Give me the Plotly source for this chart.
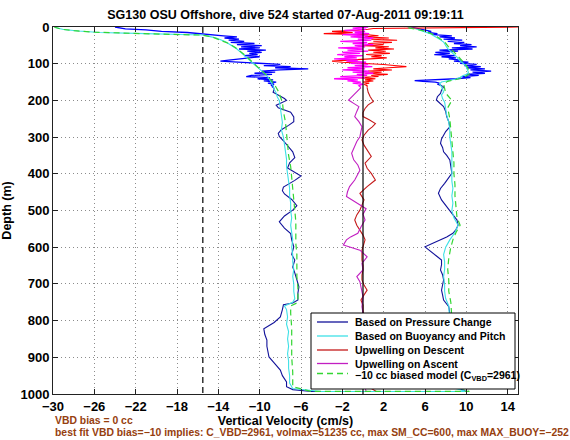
import plotly.graph_objects as go

# ---------------- data ----------------
# Based on Pressure Change (smoothed, navy) - descent then ascent
pc_desc_depth = [160, 170, 178, 188, 195, 200, 206, 213, 220, 232, 245, 258, 268, 280, 290, 298, 310, 324, 340, 356,
                 370, 384, 395, 406, 418, 428, 436, 446, 455, 470, 487, 499, 515, 531, 548, 563, 580, 599, 620, 635,
                 654, 670, 690, 708, 725, 744, 752, 757, 770, 790, 805, 822, 838, 853, 870, 885, 899, 915, 935, 950,
                 967, 980, 988, 993]
pc_desc_w = [-8.7, -8.6, -8.7, -8.0, -7.6, -7.4, -7.9, -8.4, -8.2, -7.0, -6.7, -6.7, -7.2, -7.9, -8.2, -8.1, -7.7, -7.3, -6.8, -6.6,
             -7.1, -7.3, -6.6, -6.0, -6.6, -7.3, -7.7, -7.8, -7.6, -6.9, -6.4, -6.8, -7.6, -8.1, -7.6, -7.0, -6.9, -6.7, -6.9, -6.6,
             -6.8, -6.6, -6.4, -6.2, -6.3, -6.3, -6.8, -7.7, -7.8, -8.0, -8.6, -9.6, -9.5, -9.3, -9.3, -9.2, -9.1, -8.6, -8.0, -7.8,
             -7.4, -7.4, -6.8, -5.0]
pc_asc_depth = [155, 163, 172, 181, 190, 199, 208, 217, 230, 244, 258, 272, 285, 294, 305, 317, 328, 340, 350, 362,
                380, 399, 412, 426, 440, 453, 471, 490, 508, 526, 540, 552, 562, 572, 580, 590, 599, 608, 617, 626,
                635, 648, 662, 675, 689, 703, 717, 730, 744, 762, 780, 820, 870, 920, 960, 985, 993]
pc_asc_w = [7.3, 7.8, 7.6, 7.5, 7.2, 7.1, 7.5, 7.8, 8.0, 8.1, 8.3, 8.4, 8.0, 7.8, 7.6, 7.5, 7.7, 7.8, 8.1, 8.4,
            8.5, 8.6, 8.3, 7.9, 7.5, 7.3, 7.6, 8.1, 8.6, 9.1, 9.2, 9.0, 8.7, 8.1, 7.5, 6.7, 6.0, 6.3, 6.8, 7.2,
            7.6, 7.6, 7.5, 7.7, 7.8, 7.7, 7.6, 7.7, 7.8, 8.3, 8.4, 8.2, 8.6, 8.4, 8.8, 9.3, 10.0]

# Pressure-change raw (noisy, bright blue) near the surface
raw_desc_depth = [0, 2, 5, 8, 12, 15, 18, 21, 24, 27, 30, 33, 36, 39, 42, 45, 48, 51, 54, 57, 60, 63, 66, 69, 72, 75,
                  78, 81, 84, 87, 90, 93, 96, 99, 102, 105, 108, 111, 114, 117, 120, 123, 126, 129, 132, 135, 138,
                  141, 144, 147, 150, 153, 156, 159, 162, 165]
raw_desc_w = [-24.0, -23.5, -23.0, -21.0, -19.5, -17.0, -15.5, -15.0, -13.5, -12.2, -13.4, -12.0, -13.0, -11.5, -12.8,
              -10.5, -12.2, -9.8, -11.8, -10.0, -12.0, -9.4, -11.2, -9.8, -11.0, -10.2, -11.5, -10.0, -11.0, -12.5,
              -13.0, -13.8, -11.5, -10.0, -8.0, -9.6, -7.0, -8.5, -5.3, -8.0, -9.8, -8.5, -10.5, -8.8, -10.8, -11.3,
              -9.0, -10.2, -8.7, -9.6, -8.4, -9.2, -8.6, -8.9, -8.7, -8.8]
raw_asc_depth = [0, 3, 6, 9, 12, 15, 18, 21, 24, 27, 30, 33, 36, 39, 42, 45, 48, 51, 54, 57, 60, 63, 66, 69, 72, 75,
                 78, 81, 84, 87, 90, 93, 96, 99, 102, 105, 108, 111, 114, 117, 120, 123, 126, 129, 132, 135, 138,
                 141, 144, 146, 148, 150, 153, 156, 160]
raw_asc_w = [4.6, 5.2, 5.5, 6.0, 6.6, 6.3, 7.2, 6.8, 8.6, 7.4, 8.9, 7.8, 9.6, 8.2, 9.8, 8.8, 10.5, 9.4, 11.0, 8.6,
             10.6, 7.4, 9.2, 7.0, 8.4, 6.9, 8.9, 7.6, 9.0, 8.3, 9.5, 8.8, 10.2, 9.4, 11.0, 9.8, 11.4, 10.0, 11.8, 10.4,
             12.4, 10.6, 11.8, 10.0, 11.2, 9.6, 10.4, 9.0, 7.0, 5.0, 5.8, 7.0, 7.4, 7.2, 7.6]

# Based on Buoyancy and Pitch (cyan)
bp_desc_depth = [1, 3, 7, 11, 15, 18, 20, 22, 27, 30, 40, 50, 60, 70, 80, 90, 100, 110, 120, 130, 140, 150, 160, 170,
                 180, 190, 200, 220, 240, 260, 280, 300, 320, 340, 360, 380, 400, 420, 440, 460, 480, 500, 520, 540,
                 560, 580, 600, 620, 640, 660, 680, 700, 720, 740, 750, 760, 770, 790, 810, 830, 850, 870, 890, 910,
                 930, 950, 970, 985, 993]
bp_desc_w = [-29.8, -29.5, -29.0, -27.5, -25.5, -21.0, -18.0, -15.5, -14.7, -14.2, -13.3, -12.7, -12.2, -11.8, -11.4,
             -11.0, -10.6, -10.1, -9.7, -9.4, -9.1, -8.9, -8.7, -8.6, -8.4, -8.3, -8.1, -8.0, -7.9, -7.8, -7.9, -7.7,
             -7.6, -7.5, -7.4, -7.4, -7.3, -7.2, -7.1, -7.1, -7.0, -7.0, -6.9, -7.0, -6.9, -6.8, -6.9, -6.8, -6.8, -6.7,
             -6.8, -6.7, -6.7, -6.6, -6.8, -7.6, -7.4, -7.3, -7.4, -7.2, -7.3, -7.2, -7.3, -7.2, -7.2, -7.1, -7.1, -6.8,
             -4.0]
bp_asc_depth = [0, 4, 9, 14, 18, 23, 27, 35, 41, 50, 55, 62, 68, 75, 82, 90, 95, 102, 109, 116, 123, 128, 132, 137,
                141, 146, 150, 155, 163, 170, 177, 185, 195, 205, 220, 240, 260, 280, 300, 320, 340, 360, 380, 400,
                420, 440, 460, 480, 500, 520, 540, 560, 580, 600, 620, 640, 660, 680, 700, 720, 740, 760, 780, 800,
                850, 900, 950, 985, 993]
bp_asc_w = [4.3, 5.0, 5.6, 6.1, 6.5, 6.8, 7.1, 7.5, 7.8, 8.0, 8.1, 8.3, 8.6, 8.8, 9.1, 9.3, 9.5, 9.8, 10.0, 10.1,
            10.2, 10.1, 9.7, 9.4, 9.1, 8.3, 7.6, 7.4, 7.6, 7.7, 7.8, 7.6, 7.7, 7.9, 8.0, 8.1, 8.3, 8.4, 8.4, 8.5,
            8.6, 8.6, 8.6, 8.6, 8.6, 8.7, 8.6, 8.7, 8.6, 8.8, 9.2, 8.9, 8.4, 8.0, 7.8, 7.9, 7.9, 7.8, 7.9, 7.9,
            8.0, 8.3, 8.4, 8.4, 8.5, 8.6, 8.7, 9.0, 10.0]

# -10 cc biased model (green dashed)
model_desc_depth = [0, 3, 6, 10, 14, 18, 22, 27, 35, 45, 55, 65, 75, 85, 95, 105, 115, 125, 135, 145, 155, 165, 175,
                    190, 205, 230, 260, 290, 320, 350, 380, 410, 440, 470, 500, 530, 560, 590, 620, 650, 680, 710,
                    740, 752, 760, 780, 820, 860, 900, 940, 980, 993]
model_desc_w = [-29.9, -29.6, -29.2, -28.0, -26.0, -21.5, -15.6, -14.6, -13.8, -13.0, -12.4, -11.9, -11.5, -11.1,
                -10.7, -10.3, -9.9, -9.5, -9.2, -8.9, -8.6, -8.4, -8.2, -8.0, -7.8, -7.7, -7.5, -7.4, -7.3, -7.2,
                -7.0, -6.9, -6.8, -6.7, -6.6, -6.5, -6.5, -6.5, -6.4, -6.4, -6.4, -6.3, -6.3, -6.4, -7.0, -7.0, -6.9,
                -6.9, -6.9, -6.8, -6.8, -5.0]
model_asc_depth = [0, 5, 10, 18, 27, 41, 55, 68, 82, 95, 109, 120, 128, 135, 141, 148, 155, 165, 180, 200, 220, 250,
                   280, 310, 340, 370, 400, 430, 460, 490, 520, 540, 560, 580, 600, 630, 660, 690, 720, 750, 780,
                   830, 880, 930, 980, 993]
model_asc_w = [4.0, 5.0, 5.8, 6.6, 7.2, 7.9, 8.3, 8.8, 9.3, 9.7, 10.1, 10.3, 10.3, 9.9, 9.3, 8.2, 7.8, 7.9, 8.0, 8.6,
               8.2, 8.4, 8.5, 8.6, 8.7, 8.8, 8.8, 8.9, 8.9, 9.0, 9.1, 9.4, 9.0, 8.7, 8.5, 8.3, 8.2, 8.3, 8.3, 8.5,
               8.6, 8.7, 8.8, 8.9, 9.2, 10.3]

# Upwelling on Descent (red): noisy near surface, smoothed below
upd_raw_depth = [0, 2, 4, 6, 9, 12, 15, 18, 21, 24, 27, 30, 33, 36, 39, 42, 45, 48, 51, 54, 57, 60, 63, 66, 69, 72,
                 75, 78, 81, 84, 87, 90, 93, 96, 99, 102, 105, 108, 111, 114, 117, 120, 123, 126, 129, 132, 135, 138,
                 141, 144, 147, 150, 153, 156, 160, 165]
upd_raw_w = [15.0, 3.5, 1.0, 0.5, -0.5, -3.0, -1.0, -3.8, 0.5, 1.5, 0.2, 2.5, 0.8, 3.3, 1.0, 2.8, 0.5, 2.0, 0.0, 2.5,
             1.2, 3.0, 0.5, 2.2, 1.0, 2.6, 0.3, 1.8, 0.8, 2.3, 0.5, -1.5, -3.0, -2.0, 0.5, 2.0, 3.0, 4.2, 2.5, 1.0,
             2.8, 0.5, 1.8, 0.2, 2.4, 0.8, 1.5, -0.5, 1.2, 0.2, 1.0, 0.0, 0.6, 0.1, 0.4, 0.4]
upd_depth = [165, 178, 190, 203, 212, 222, 233, 244, 253, 263, 272, 281, 295, 308, 322, 335, 353, 371, 385, 399, 417,
             435, 453, 471, 485, 499, 512, 526, 540, 553, 567, 580, 595, 608, 622, 635, 650, 662, 676, 689, 703, 717,
             730, 744, 758, 771, 800, 850, 900, 950, 980, 993]
upd_w = [0.4, 0.5, 0.7, 1.0, 0.5, 0.2, 0.0, 0.0, 0.6, 1.2, 0.9, 0.5, 0.1, -0.1, 0.1, 0.4, 0.8, 0.2, 0.4, 0.8, 1.2,
         0.4, -0.3, 0.1, -0.1, -0.3, -0.6, -0.8, -0.6, -0.3, 0.0, 0.2, 0.0, -0.1, -0.1, -0.1, 0.0, 0.0, -0.1, -0.1,
         0.1, 0.4, 0.1, -0.2, 0.0, 0.0, 0.1, -0.1, 0.2, 0.0, 0.5, 1.3]

# Upwelling on Ascent (magenta): noisy near surface, smoothed below
upa_raw_depth = [0, 3, 6, 9, 12, 15, 18, 21, 24, 27, 30, 33, 36, 39, 42, 45, 48, 51, 54, 57, 60, 63, 66, 69, 72, 75,
                 78, 81, 84, 87, 90, 93, 96, 99, 102, 105, 108, 111, 114, 117, 120, 123, 126, 129, 132, 135, 138, 141,
                 144, 147, 150, 153, 156, 160, 165]
upa_raw_w = [0.5, -1.0, 0.3, -1.8, 0.2, -0.8, 0.6, -2.0, 0.5, -1.2, 1.0, -0.5, 0.8, -2.2, 0.4, -1.0, 1.0, -0.8, 0.2,
             -2.4, 0.0, -1.5, 0.5, -2.0, -0.3, -2.5, 0.0, -1.8, -0.6, -2.8, -0.5, -1.6, 0.3, -1.2, 0.5, -0.8, 0.9,
             -1.5, 0.2, -2.0, 0.6, -1.0, 1.0, -0.6, 0.4, -2.2, 0.2, -2.8, -0.5, -1.5, -0.2, -1.0, 0.0, -0.4, -0.2]
upa_depth = [165, 176, 190, 199, 208, 217, 230, 244, 258, 272, 285, 299, 312, 326, 344, 362, 376, 390, 404, 417, 435,
             449, 462, 480, 495, 510, 526, 545, 562, 572, 580, 594, 603, 608, 626, 644, 662, 680, 694, 708, 735, 762,
             780, 820, 870, 920, 960, 993]
upa_w = [-0.2, -0.6, -1.1, -1.4, -0.9, -0.4, -0.6, -0.8, -0.4, -0.1, -0.2, -0.3, -0.6, -0.8, -1.1, -0.9, -0.5, -0.3,
         -0.6, -0.8, -1.3, -1.5, -1.6, -0.6, 0.3, 0.0, 0.2, -0.2, -0.5, -1.2, -1.6, -1.9, -1.0, -0.3, 0.4, -0.1, 0.0,
         -0.6, -0.3, -0.2, 0.0, -0.1, 0.0, -0.2, 0.1, -0.1, 0.0, 0.3]

# reference lines, labels and notes
vbd_limit_w = -15.5
zero_w = 0.0
depth_range = [1000, 0]
x_range = [-30, 15]
x_ticks = [-30, -26, -22, -18, -14, -10, -6, -2, 2, 6, 10, 14]
y_ticks = [0, 100, 200, 300, 400, 500, 600, 700, 800, 900, 1000]
title_text = "SG130 OSU Offshore, dive 524 started 07-Aug-2011 09:19:11"
legend_labels = ["Based on Pressure Change", "Based on Buoyancy and Pitch", "Upwelling on Descent",
                 "Upwelling on Ascent", "\u221210 cc biased model (C<sub>VBD</sub>=2961)"]
note1 = "VBD bias = 0 cc"
note2 = ("best fit VBD bias=\u221210 implies: C_VBD=2961, volmax=51235 cc, max SM_CC=600, "
         "max MAX_BUOY=\u2212252")

# ---------------- figure ----------------
FONT = "Liberation Sans, Arial, Helvetica, sans-serif"
NAVY = "#12129a"
BLUE = "#0000ff"
CYAN = "#3ee0e6"
GREEN = "#33d633"
RED_D = "#c41a1a"
RED_B = "#ff0000"
MAG_D = "#c21fc2"
MAG_B = "#ff00ff"
BROWN = "#96400f"
MODEL_DASH = "6px,4px"

W, H = 570, 440
ML, MR, MT, MB = 53, 52, 27, 46
PW, PH = W - ML - MR, H - MT - MB


def px_x(px):
    return (px - ML) / PW


def px_y(py):
    return (H - MB - py) / PH


fig = go.Figure()

fig.add_trace(go.Scatter(x=raw_desc_w, y=raw_desc_depth, mode="lines", line=dict(color=BLUE, width=1.3),
                         showlegend=False, hoverinfo="skip"))
fig.add_trace(go.Scatter(x=raw_asc_w, y=raw_asc_depth, mode="lines", line=dict(color=BLUE, width=1.3),
                         showlegend=False, hoverinfo="skip"))
fig.add_trace(go.Scatter(x=pc_desc_w + pc_asc_w[::-1], y=pc_desc_depth + pc_asc_depth[::-1], mode="lines",
                         line=dict(color=NAVY, width=1.1), name=legend_labels[0], showlegend=False))
fig.add_trace(go.Scatter(x=bp_desc_w + bp_asc_w[::-1], y=bp_desc_depth + bp_asc_depth[::-1], mode="lines",
                         line=dict(color=CYAN, width=1.1), name=legend_labels[1], showlegend=False))
fig.add_trace(go.Scatter(x=upd_raw_w, y=upd_raw_depth, mode="lines", line=dict(color=RED_B, width=1.1),
                         showlegend=False, hoverinfo="skip"))
fig.add_trace(go.Scatter(x=upd_w, y=upd_depth, mode="lines", line=dict(color=RED_D, width=1.1),
                         name=legend_labels[2], showlegend=False))
fig.add_trace(go.Scatter(x=upa_raw_w, y=upa_raw_depth, mode="lines", line=dict(color=MAG_B, width=1.3),
                         showlegend=False, hoverinfo="skip"))
fig.add_trace(go.Scatter(x=upa_w, y=upa_depth, mode="lines", line=dict(color=MAG_D, width=1.1),
                         name=legend_labels[3], showlegend=False))
fig.add_trace(go.Scatter(x=model_desc_w + model_asc_w[::-1], y=model_desc_depth + model_asc_depth[::-1],
                         mode="lines", line=dict(color=GREEN, width=1.2, dash=MODEL_DASH),
                         name=legend_labels[4], showlegend=False))

# reference lines
fig.add_shape(type="line", xref="x", yref="y", x0=vbd_limit_w, x1=vbd_limit_w, y0=depth_range[1], y1=depth_range[0],
              line=dict(color="black", width=1.2, dash="6px,4px"), layer="above")
fig.add_shape(type="line", xref="x", yref="y", x0=zero_w, x1=zero_w, y0=depth_range[1], y1=depth_range[0],
              line=dict(color="black", width=1.2), layer="above")

# compact MATLAB-style legend box
legend_colors = [NAVY, CYAN, RED_D, MAG_D, GREEN]
legend_dashes = ["solid", "solid", "solid", "solid", MODEL_DASH]
legend_rows_px = [322, 336, 350, 363.5, 375.5]
fig.add_shape(type="rect", xref="paper", yref="paper", x0=px_x(311), x1=px_x(515), y0=px_y(389), y1=px_y(313),
              line=dict(color="black", width=1), fillcolor="white", layer="above")
annotations = []
for lab, col, dsh, ry in zip(legend_labels, legend_colors, legend_dashes, legend_rows_px):
    line_y = ry if "sub" not in lab else ry - 2
    fig.add_shape(type="line", xref="paper", yref="paper", x0=px_x(317), x1=px_x(348), y0=px_y(line_y),
                  y1=px_y(line_y), line=dict(color=col, width=1.3, dash=dsh), layer="above")
    annotations.append(dict(text=lab, xref="paper", yref="paper", x=px_x(353), y=px_y(ry), xanchor="left",
                            yanchor="middle", showarrow=False,
                            font=dict(family=FONT, size=10.5, color="black", weight="bold")))

annotations += [
    dict(text=note1, xref="paper", yref="paper", x=0, y=px_y(420), xanchor="left", yanchor="middle",
         showarrow=False, font=dict(family=FONT, size=10.4, color=BROWN, weight="bold")),
    dict(text=note2, xref="paper", yref="paper", x=0, y=px_y(432), xanchor="left", yanchor="middle",
         showarrow=False, font=dict(family=FONT, size=10.4, color=BROWN, weight="bold")),
]

axis_common = dict(showline=True, linecolor="#222", linewidth=1, mirror="ticks", ticks="inside", ticklen=5,
                   tickcolor="#222", showgrid=True, gridcolor="#8c8c8c", gridwidth=1, griddash="1px,3px",
                   zeroline=False, tickfont=dict(family=FONT, size=13, color="black", weight="bold"))

fig.update_xaxes(range=x_range, tickvals=x_ticks, **axis_common,
                 title=dict(text="Vertical Velocity (cm/s)", standoff=1,
                            font=dict(family=FONT, size=12.5, color="black", weight="bold")))
fig.update_yaxes(range=depth_range, tickvals=y_ticks, **axis_common,
                 title=dict(text="Depth (m)", standoff=6,
                            font=dict(family=FONT, size=12.5, color="black", weight="bold")))

fig.update_layout(
    width=W, height=H,
    margin=dict(l=ML, r=MR, t=MT, b=MB, autoexpand=False),
    paper_bgcolor="white", plot_bgcolor="white",
    title=dict(text=title_text, x=0.5, xanchor="center", y=1 - 15 / H, yanchor="middle",
               xref="paper", font=dict(family=FONT, size=12.5, color="black", weight="bold")),
    showlegend=False,
    annotations=annotations,
)

fig.write_html("out.html", config={"displayModeBar": False},
               post_script="document.body.style.margin='0px';")
